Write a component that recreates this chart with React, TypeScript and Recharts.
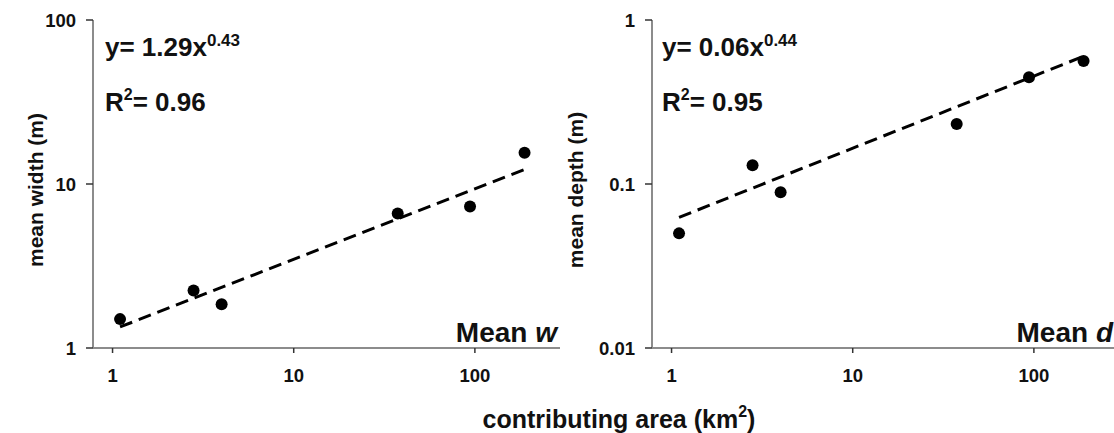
import { ScatterChart, Scatter, XAxis, YAxis } from 'recharts';

// contributing area (km2) of each reach
const areas = [1.1, 2.8, 4.0, 37.5, 94, 188];
// mean channel width (m)
const meanWidth = [1.5, 2.24, 1.85, 6.6, 7.3, 15.5];
// mean channel depth (m)
const meanDepth = [0.05, 0.13, 0.089, 0.232, 0.447, 0.562];

const areaTicks = [1, 10, 100];
const widthTicks = [1, 10, 100];
const depthTicks = [0.01, 0.1, 1];

// power-law fits y = a * x^b
const widthFit = [1.29, 0.43];
const depthFit = [0.06, 0.44];
const widthR2 = 0.96;
const depthR2 = 0.95;

const FONT = '"Liberation Sans", Arial, Helvetica, sans-serif';
const AXIS_GREY = '#8c8c8c';
const areaDomain = [0.78, 295];

const fmt = (v: number) => String(v);

function Panel({ values, fit, yTicks, yDomain }: { values: number[]; fit: number[]; yTicks: number[]; yDomain: number[] }) {
  const points = areas.map((x, i) => ({ x, y: values[i] }));
  const ends = [areas[0], areas[areas.length - 1]];
  const trend = ends.map((x) => ({ x, y: fit[0] * Math.pow(x, fit[1]) }));

  const tickText = { fontSize: 18.5, fontWeight: 700, fill: '#111', fontFamily: FONT };

  return (
    <ScatterChart width={570} height={433} margin={{ top: 20, right: 10, bottom: 45, left: 0 }}>
      <XAxis
        type="number"
        dataKey="x"
        scale="log"
        domain={areaDomain}
        ticks={areaTicks}
        allowDataOverflow
        tickFormatter={fmt}
        height={40}
        tickSize={5}
        tickMargin={16}
        tick={tickText}
        tickLine={{ stroke: '#333', strokeWidth: 1.5 }}
        axisLine={{ stroke: AXIS_GREY, strokeWidth: 2 }}
      />
      <YAxis
        type="number"
        dataKey="y"
        scale="log"
        domain={yDomain}
        ticks={yTicks}
        allowDataOverflow
        tickFormatter={fmt}
        width={93}
        tickSize={7}
        tickMargin={10}
        tick={tickText}
        tickLine={{ stroke: '#333', strokeWidth: 1.5 }}
        axisLine={{ stroke: AXIS_GREY, strokeWidth: 2 }}
      />
      {/* frame: top and right edges */}
      <XAxis xAxisId="top" orientation="top" type="number" domain={[0, 1]} height={0} tick={false} tickLine={false} axisLine={{ stroke: AXIS_GREY, strokeWidth: 2 }} />
      <YAxis yAxisId="right" orientation="right" type="number" domain={[0, 1]} width={0} tick={false} tickLine={false} axisLine={{ stroke: AXIS_GREY, strokeWidth: 2 }} />
      <Scatter
        data={trend}
        isAnimationActive={false}
        line={{ stroke: '#000', strokeWidth: 3, strokeDasharray: '13 7' }}
        shape={() => <g />}
      />
      <Scatter
        data={points}
        isAnimationActive={false}
        shape={(p: any) => <circle cx={p.cx} cy={p.cy} r={6} fill="#000" />}
      />
    </ScatterChart>
  );
}

function FitLabel({ x, fit, r2 }: { x: number; fit: number[]; r2: number }) {
  return (
    <g fontFamily={FONT} fontWeight={700} fill="#111">
      <text x={x} y={56} fontSize={26}>
        {`y= ${fit[0].toFixed(2)}x`}
        <tspan fontSize={17} dy={-10}>{fit[1].toFixed(2)}</tspan>
      </text>
      <text x={x} y={111} fontSize={26}>
        R<tspan fontSize={16} dy={-11}>2</tspan>
        <tspan dy={11}>{`= ${r2.toFixed(2)}`}</tspan>
      </text>
    </g>
  );
}

export default function App() {
  return (
    <div style={{ position: 'absolute', left: 0, top: 0, width: 1114, height: 433, overflow: 'hidden', background: '#fff' }}>
      <div style={{ position: 'absolute', left: 0, top: 0 }}>
        <Panel values={meanWidth} fit={widthFit} yTicks={widthTicks} yDomain={[1, 100]} />
      </div>
      <div style={{ position: 'absolute', left: 559, top: 0 }}>
        <Panel values={meanDepth} fit={depthFit} yTicks={depthTicks} yDomain={[0.01, 1]} />
      </div>
      <svg width={1114} height={433} style={{ position: 'absolute', left: 0, top: 0, pointerEvents: 'none' }}>
        <FitLabel x={105} fit={widthFit} r2={widthR2} />
        <FitLabel x={662} fit={depthFit} r2={depthR2} />
        <g fontFamily={FONT} fontWeight={700} fill="#111">
          <text x={557} y={342} fontSize={28} textAnchor="end">
            Mean <tspan fontStyle="italic">w</tspan>
          </text>
          <text x={1113} y={342} fontSize={28} textAnchor="end">
            Mean <tspan fontStyle="italic">d</tspan>
          </text>
          <text transform="translate(35,190) rotate(-90)" fontSize={21} textAnchor="middle" dominantBaseline="central">
            mean width (m)
          </text>
          <text transform="translate(575,190) rotate(-90)" fontSize={21} textAnchor="middle" dominantBaseline="central">
            mean depth (m)
          </text>
          <text x={619} y={428} fontSize={25} textAnchor="middle">
            contributing area (km<tspan fontSize={16} dy={-11}>2</tspan>
            <tspan dy={11}>)</tspan>
          </text>
        </g>
      </svg>
    </div>
  );
}
